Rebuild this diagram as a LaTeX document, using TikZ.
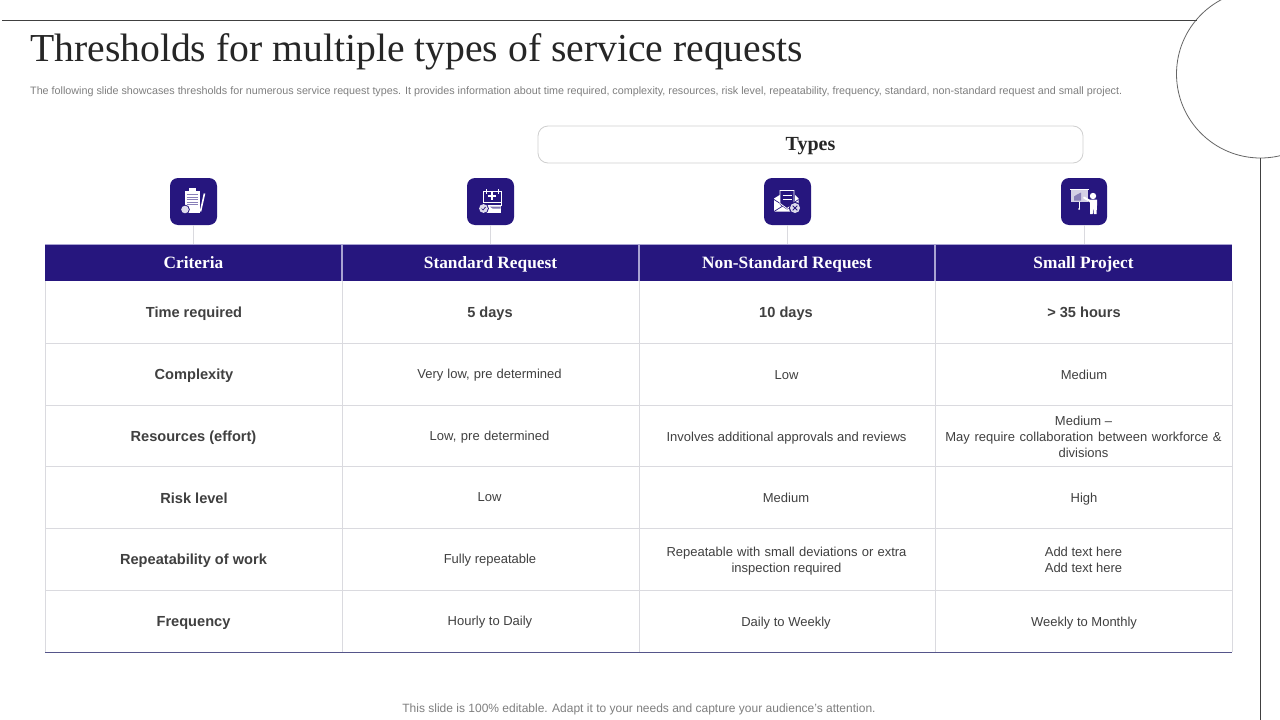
\documentclass[tikz,border=0pt]{standalone}
\usepackage{fontspec}
\setmainfont{Liberation Sans}
\newfontfamily\ttlfont{Liberation Serif}
\definecolor{navy}{HTML}{26167E}
\definecolor{grid}{HTML}{DADADF}
\definecolor{boxline}{HTML}{CFCFCF}
\definecolor{hline}{HTML}{A9A3D2}
\definecolor{botline}{HTML}{55558A}
\definecolor{ink}{HTML}{404040}
\definecolor{ttl}{HTML}{262626}
\definecolor{sub}{HTML}{7F7F7F}
\tikzset{
  x=1pt,y=-1pt,
  txt/.style={inner sep=0pt,anchor=base,align=center,text=ink,font=\fontsize{13}{16}\selectfont},
  txtm/.style={inner sep=0pt,align=center,text=ink,font=\fontsize{13}{16}\selectfont},
  crit/.style={inner sep=0pt,anchor=base,align=center,text=ink,font=\fontsize{14.6}{18}\selectfont\bfseries},
  head/.style={inner sep=0pt,minimum height=37pt,text height=14pt,text depth=3pt,fill=navy,text=white,font=\ttlfont\bfseries\fontsize{17.3}{18}\selectfont},
  iconbox/.style={inner sep=0pt,minimum width=47pt,minimum height=47pt,rounded corners=8pt,fill=navy},
  ink1/.style={fill=white,draw=none},
  dec/.style={draw=black!75,line width=0.8pt},
}
\begin{document}
\begin{tikzpicture}
\useasboundingbox (0,0) rectangle (1280,720);
\fill[white] (0,0) rectangle (1280,720);
% decoration
\node[circle,draw=black!60,line width=0.8pt,minimum size=168pt,inner sep=0pt] (deco) at (1260.5,74) {};
\coordinate (ruleL) at (2,20);
\coordinate (ruleR) at (1197,20);
\coordinate (ruleB) at (1260.5,720);
\draw[dec] (ruleL) -- (ruleR);
\draw[dec] (deco.south) -- (ruleB);
% title
\node[anchor=base west,inner sep=0pt,text=ttl,font=\ttlfont\fontsize{39.65}{42}\selectfont] (title) at (30,61) {Thresholds for multiple types of service requests};
\node[anchor=base west,inner sep=0pt,text=sub,font=\fontsize{10.75}{12}\selectfont] (subt) at (30,94) {The following slide showcases thresholds for numerous service request types. It provides information about time required, complexity, resources, risk level, repeatability, frequency, standard, non-standard request and small project.};
% types
\node[draw=boxline,line width=0.8pt,rounded corners=10pt,minimum width=545pt,minimum height=37pt,inner sep=0pt,text height=14pt,text depth=2pt,text=ttl,font=\ttlfont\bfseries\fontsize{20}{20}\selectfont] (types) at (810.5,144.5) {Types};
% header
\node[head,minimum width=297pt] (h1) at (193.5,262.5) {Criteria};
\node[head,minimum width=297pt] (h2) at (490.5,262.5) {Standard Request};
\node[head,minimum width=296pt] (h3) at (787,262.5) {Non-Standard Request};
\node[head,minimum width=297pt] (h4) at (1083.5,262.5) {Small Project};
% grid
\foreach \y in {343.2,405.2,466.9,528.3,590}
  \draw[grid,line width=0.9pt] (45,\y) -- (1232,\y);
\foreach \x in {45,342,639,935,1232}
  \draw[grid,line width=0.9pt] (\x,281) -- (\x,652);
\foreach \x in {342,639,935}
  \draw[hline,line width=1.1pt] (\x,244) -- (\x,281);
\draw[hline,line width=0.9pt] (45,244) -- (1232,244);
\draw[botline,line width=1pt] (45,652) -- (1232,652);
% icons
\node[iconbox] (i1) at (193.5,201.5) {};
\node[iconbox] (i2) at (490.5,201.5) {};
\node[iconbox] (i3) at (787.5,201.5) {};
\node[iconbox,minimum width=46pt] (i4) at (1084,201.5) {};
\draw[grid,line width=0.9pt] (i1.south) -- (i1.south |- h1.north);
\draw[grid,line width=0.9pt] (i2.south) -- (i2.south |- h2.north);
\draw[grid,line width=0.9pt] (i3.south) -- (i3.south |- h3.north);
\draw[grid,line width=0.9pt] (i4.south) -- (i4.south |- h4.north);
% icon 1 clipboard
\begin{scope}[shift={(193.5,201.5)}]
  \fill[ink1] (-9,-11) rectangle (6.5,11.5);
  \fill[ink1] (-5,-13.5) rectangle (2.5,-10);
  \foreach \yy in {-7,-4.5,-2,0.5,3}
    \draw[navy!55,line width=0.7pt] (-7,\yy) -- (4.5,\yy);
  \draw[white,line width=1.6pt] (7,10) -- (11,-8);
  \fill[navy] (-8.5,8) circle (4.8);
  \fill[white!85!navy] (-8.5,8) circle (3.8);
\end{scope}
% icon 2 calendar
\begin{scope}[shift={(490.5,201.5)}]
  \draw[white,line width=0.9pt] (-7.5,-10) rectangle (10.5,4);
  \fill[ink1] (-7.5,3.5) rectangle (10.5,11);
  \draw[white,line width=1pt] (-4.5,-12.5) -- (-4.5,-8) (7.5,-12.5) -- (7.5,-8);
  \draw[white,line width=2pt] (-3,-5.5) -- (5,-5.5) (1,-9.5) -- (1,-1.5);
  \draw[white,line width=0.8pt] (-7,1) -- (10,1);
  \fill[navy!60] (-1,5) -- (10,5) -- (10,7) -- (2,7) -- cycle;
  \fill[navy] (-7,7) circle (5.4);
  \fill[white!85!navy] (-7,7) circle (4.4);
  \draw[navy,line width=0.7pt] (-9,7) -- (-7.5,8.5) -- (-5,5.5);
\end{scope}
% icon 3 envelope
\begin{scope}[shift={(787.5,201.5)}]
  \fill[ink1] (-13.5,-3) -- (-7,-7) -- (7,-7) -- (11,-3) -- (11,10) -- (-13.5,10) -- cycle;
  \draw[navy,line width=0.7pt] (-13.5,-2) -- (-1,6) -- (11,-2) (-13.5,10) -- (-4,4) (11,10) -- (2,4);
  \fill[navy] (-8,-11) rectangle (7,3);
  \fill[navy] (-8,3) -- (7,3) -- (-0.5,8) -- cycle;
  \draw[white,line width=0.8pt] (-7.5,-11) -- (6.5,-11) -- (6.5,2) -- (-0.5,7) -- (-7.5,2) -- cycle;
  \draw[white,line width=0.8pt] (-5,-6) -- (4,-6) (-5,-2) -- (4,-2);
  \fill[navy] (7.5,6.5) circle (6);
  \fill[white!85!navy] (7.5,6.5) circle (5);
  \draw[navy,line width=1pt] (5.2,4.2) -- (9.8,8.8) (9.8,4.2) -- (5.2,8.8);
\end{scope}
% icon 4 presentation
\begin{scope}[shift={(1084,201.5)}]
  \fill[ink1] (-14.5,-13) rectangle (5,-11.8);
  \fill[white!80!navy] (-13,-11.5) rectangle (3.5,0);
  \fill[navy!55] (-10,-1) -- (-10,-5) -- (-7,-7) -- (-3,-9) -- (-3,-1) -- cycle;
  \draw[white,line width=0.8pt] (-5,0) -- (-5,7);
  \fill[white] (-5,7.5) circle (1);
  \fill[ink1] (9,-5.5) circle (3.2);
  \fill[ink1] (5.5,-2) -- (13,-2) -- (13,4) -- (12.5,12.5) -- (9.8,12.5) -- (9.3,5) -- (8.7,12.5) -- (6,12.5) -- (6,1) -- (-1,-3.5) -- (0,-5) -- cycle;
\end{scope}
% cells
\node[crit] (c11) at (194,317) {Time required};
\node[crit] (c21) at (194,379) {Complexity};
\node[crit] (c31) at (193.5,441) {Resources (effort)};
\node[crit] (c41) at (194,503) {Risk level};
\node[crit] (c51) at (193.5,564) {Repeatability of work};
\node[crit] (c61) at (193.5,626) {Frequency};
\node[crit] (c12) at (490,317) {5 days};
\node[crit] (c13) at (786,317) {10 days};
\node[crit] (c14) at (1084,317) {> 35 hours};
\node[txt] (c22) at (489.5,378) {\spaceskip=4pt Very low, pre determined};
\node[txt] (c23) at (786.5,379) {Low};
\node[txt] (c24) at (1084,379) {Medium};
\node[txt] (c32) at (489.5,440) {\spaceskip=4.5pt Low, pre determined};
\node[txt] (c33) at (786.5,441) {Involves additional approvals and reviews};
\node[txtm] (c34) at (1083.5,436.5) {Medium –\\\spaceskip=4.7pt May require collaboration between workforce \&\\divisions};
\node[txt] (c42) at (489.5,501) {Low};
\node[txt] (c43) at (786,502) {Medium};
\node[txt] (c44) at (1084,502) {High};
\node[txt] (c52) at (490,563) {Fully repeatable};
\node[txtm] (c53) at (786.5,561) {\spaceskip=4.2pt Repeatable with small deviations or extra\\inspection required};
\node[txtm] (c54) at (1083.5,559.5) {Add text here\\Add text here};
\node[txt] (c62) at (490,625) {Hourly to Daily};
\node[txt] (c63) at (786,626) {Daily to Weekly};
\node[txt] (c64) at (1084,626) {Weekly to Monthly};
% footer
\node[anchor=base,inner sep=0pt,text=sub,font=\fontsize{12}{14}\selectfont] (foot) at (639,712.5) {This slide is 100\% editable. Adapt it to your needs and capture your audience's attention.};
\end{tikzpicture}
\end{document}
